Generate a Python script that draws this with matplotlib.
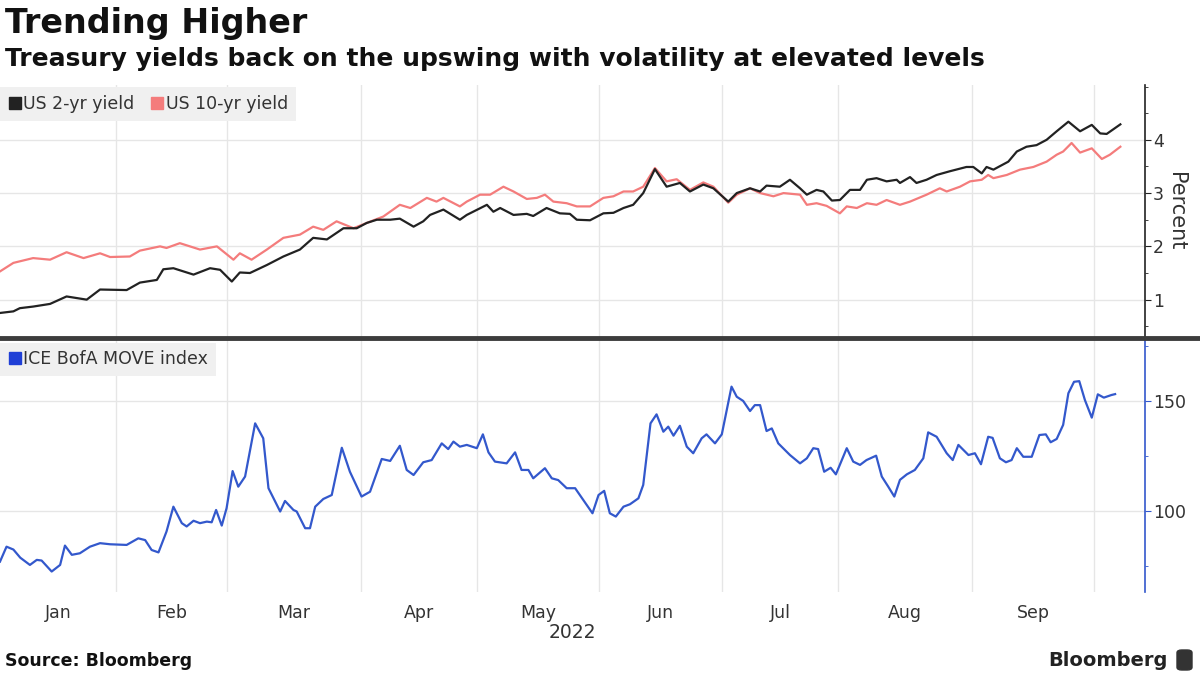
import matplotlib
matplotlib.use("Agg")
import matplotlib.pyplot as plt
from matplotlib.lines import Line2D
from matplotlib.patches import FancyBboxPatch
import numpy as np
import pandas as pd

# x positions are trading days counted from 3 Jan 2022 (Bloomberg plots on a
# trading-day axis)
td_2y = [0.0, 2.30, 3.41, 5.69, 8.60, 11.44, 14.90, 17.19, 21.76, 24.04,
         26.95, 28.06, 29.79, 33.25, 36.09, 37.82, 39.83, 41.21, 42.94, 45.85,
         48.69, 51.53, 53.81, 56.17, 59.01, 61.29, 63.02, 64.75, 67.04, 68.70,
         71.06, 72.72, 73.89, 76.18, 79.02, 80.20, 83.66, 84.77, 85.94, 88.23,
         90.51, 91.62, 93.91, 96.19, 97.92, 99.10, 101.38, 103.67, 105.40, 107.13,
         108.79, 110.52, 112.53, 114.54, 116.82, 118.55, 120.84, 122.57, 125.13, 126.59,
         128.87, 130.60, 131.71, 133.99, 135.73, 137.46, 138.63, 140.30, 141.47, 142.93,
         144.31, 146.04, 147.77, 148.95, 150.61, 152.34, 154.07, 154.63, 156.36, 157.47,
         159.20, 160.93, 163.21, 166.05, 167.23, 168.68, 169.51, 170.69, 173.25, 174.71,
         176.37, 178.10, 179.83, 181.56, 183.57, 185.58, 187.59, 189.04, 190.15, 192.50]
yld_2y = [0.75, 0.78, 0.84, 0.87, 0.92, 1.06, 1.00, 1.19, 1.18, 1.32,
          1.37, 1.57, 1.59, 1.47, 1.59, 1.56, 1.34, 1.51, 1.50, 1.65,
          1.81, 1.94, 2.16, 2.13, 2.34, 2.34, 2.44, 2.50, 2.50, 2.52,
          2.37, 2.47, 2.59, 2.69, 2.50, 2.59, 2.78, 2.65, 2.72, 2.59,
          2.61, 2.57, 2.72, 2.62, 2.61, 2.50, 2.49, 2.62, 2.63, 2.72,
          2.78, 3.00, 3.45, 3.12, 3.19, 3.03, 3.16, 3.09, 2.84, 3.00,
          3.09, 3.03, 3.14, 3.12, 3.25, 3.09, 2.97, 3.06, 3.03, 2.86,
          2.87, 3.06, 3.06, 3.25, 3.28, 3.22, 3.25, 3.19, 3.30, 3.19,
          3.25, 3.34, 3.41, 3.49, 3.49, 3.37, 3.49, 3.44, 3.59, 3.78,
          3.87, 3.90, 4.00, 4.16, 4.34, 4.16, 4.28, 4.12, 4.11, 4.29]

td_10y = [0.0, 2.30, 5.69, 8.60, 11.44, 14.35, 17.19, 18.92, 22.31, 24.04,
          27.50, 28.61, 30.90, 34.36, 37.27, 40.11, 41.21, 43.22, 45.85, 48.69,
          51.53, 53.81, 55.55, 57.83, 60.74, 63.02, 65.86, 68.70, 70.50, 73.34,
          75.00, 76.18, 79.02, 80.20, 82.48, 84.21, 86.50, 88.23, 90.51, 92.24,
          93.63, 95.08, 97.37, 99.10, 101.38, 103.67, 105.40, 107.13, 108.79, 110.52,
          112.53, 114.54, 116.27, 118.55, 120.84, 122.57, 125.13, 126.59, 128.87, 130.60,
          132.89, 134.62, 137.46, 138.63, 140.30, 142.03, 144.31, 145.49, 147.22, 148.95,
          150.61, 152.34, 154.63, 156.36, 159.20, 161.48, 162.66, 164.95, 166.68, 168.68,
          169.79, 170.69, 172.98, 175.26, 177.55, 179.83, 181.56, 182.67, 184.12, 185.58,
          187.59, 189.32, 190.70, 192.50]
yld_10y = [1.53, 1.69, 1.78, 1.75, 1.89, 1.78, 1.87, 1.80, 1.81, 1.92,
           2.00, 1.97, 2.06, 1.94, 2.00, 1.75, 1.87, 1.75, 1.94, 2.16,
           2.22, 2.37, 2.31, 2.47, 2.34, 2.44, 2.56, 2.78, 2.72, 2.91,
           2.84, 2.91, 2.75, 2.84, 2.97, 2.97, 3.12, 3.03, 2.89, 2.91,
           2.97, 2.84, 2.81, 2.75, 2.75, 2.91, 2.94, 3.03, 3.03, 3.12,
           3.47, 3.22, 3.26, 3.06, 3.20, 3.12, 2.82, 2.97, 3.09, 3.00,
           2.94, 3.00, 2.97, 2.78, 2.81, 2.76, 2.62, 2.75, 2.72, 2.81,
           2.78, 2.87, 2.78, 2.84, 2.97, 3.09, 3.03, 3.12, 3.22, 3.25,
           3.34, 3.28, 3.34, 3.44, 3.49, 3.59, 3.72, 3.78, 3.94, 3.76,
           3.84, 3.64, 3.72, 3.87]

td_move = [0.0, 1.12, 2.30, 3.48, 5.14, 6.32, 7.15, 8.88, 10.33, 11.16,
           12.34, 13.72, 15.46, 17.19, 18.92, 21.76, 23.76, 24.94, 26.05, 27.23,
           28.61, 29.79, 31.24, 32.07, 33.25, 34.36, 35.54, 36.37, 37.13, 38.10,
           38.93, 39.97, 40.94, 42.11, 43.84, 45.23, 46.13, 48.14, 48.97, 50.42,
           50.98, 52.43, 53.26, 54.16, 55.55, 57.00, 58.73, 60.12, 62.12, 63.58,
           65.59, 67.04, 68.70, 69.88, 71.06, 72.72, 74.17, 75.90, 77.01, 77.91,
           79.02, 80.20, 81.93, 82.97, 83.93, 85.04, 87.05, 88.50, 89.61, 90.79,
           91.62, 93.63, 94.81, 95.91, 97.37, 98.82, 100.21, 101.80, 102.84, 103.81,
           104.78, 105.81, 107.13, 108.24, 109.69, 110.52, 111.77, 112.81, 113.98, 114.82,
           115.72, 116.82, 118.00, 119.11, 120.56, 121.39, 122.85, 124.02, 125.69, 126.59,
           127.69, 128.87, 129.70, 130.60, 131.71, 132.61, 133.72, 135.73, 137.46, 138.63,
           139.74, 140.57, 141.61, 142.72, 143.62, 145.49, 146.60, 147.77, 148.88, 150.54,
           151.51, 152.62, 153.66, 154.63, 155.81, 157.19, 158.64, 159.48, 160.93, 162.66,
           163.70, 164.67, 166.40, 167.51, 168.55, 169.79, 170.55, 171.80, 172.84, 173.81,
           174.71, 175.82, 177.27, 178.59, 179.69, 180.52, 181.56, 182.67, 183.57, 184.54,
           185.44, 186.41, 187.59, 188.63, 189.66, 190.98, 191.60]
move = [76.8, 83.6, 82.3, 78.6, 75.3, 77.6, 77.3, 72.3, 75.3, 84.1,
        79.9, 80.6, 83.6, 85.2, 84.7, 84.4, 87.4, 86.6, 82.1, 81.0,
        90.5, 101.8, 94.3, 92.8, 95.4, 94.3, 95.0, 94.7, 100.3, 93.2,
        101.1, 118.0, 110.9, 115.5, 139.7, 132.9, 110.2, 99.6, 104.4, 100.3,
        99.6, 92.0, 92.0, 101.8, 105.3, 107.1, 128.6, 117.7, 106.4, 108.6,
        123.5, 122.6, 129.5, 118.5, 116.2, 122.0, 123.0, 130.6, 128.0, 131.4,
        129.1, 129.9, 128.4, 134.7, 126.5, 122.3, 121.5, 126.5, 118.5, 118.5,
        114.7, 119.3, 114.7, 113.9, 110.2, 110.2, 104.9, 98.8, 107.1, 109.0,
        98.8, 97.3, 101.8, 102.9, 105.6, 111.7, 139.7, 143.8, 135.9, 138.2,
        134.1, 138.6, 129.1, 126.1, 132.9, 134.7, 130.6, 134.7, 156.4, 151.8,
        149.9, 145.3, 148.0, 148.0, 136.2, 137.4, 130.6, 125.3, 121.5, 123.8,
        128.4, 128.0, 117.7, 119.5, 116.5, 128.4, 122.3, 120.8, 123.0, 125.0,
        115.5, 110.9, 106.4, 114.0, 116.5, 118.5, 123.8, 135.6, 133.6, 126.1,
        123.0, 129.9, 125.3, 126.1, 121.1, 133.6, 133.1, 123.8, 122.0, 123.0,
        128.4, 124.5, 124.5, 134.4, 134.7, 131.1, 132.6, 139.0, 153.4, 158.6,
        158.9, 150.3, 142.3, 152.9, 151.4, 152.6, 153.0]

months = ['Jan', 'Feb', 'Mar', 'Apr', 'May', 'Jun', 'Jul', 'Aug', 'Sep']
holidays = ['2022-01-17', '2022-02-21', '2022-04-15', '2022-05-30',
            '2022-06-20', '2022-07-04', '2022-09-05']

# trading calendar -> index of the first trading day of each month
tdays = pd.bdate_range('2022-01-03', '2022-10-31', freq='C', holidays=holidays)
month_start_idx = [int(np.argmax(tdays.month == m)) for m in range(1, 11)]

black = '#222222'
red = '#f47c7c'
blue = '#3358cc'
grid_col = '#e6e6e6'
text_col = '#333333'

fig = plt.figure(figsize=(12, 6.74), dpi=100)
ax1 = fig.add_axes([0, 0.4985, 0.954, 0.3755])
ax2 = fig.add_axes([0, 0.1217, 0.954, 0.3738], sharex=ax1)

ax1.plot(td_2y, yld_2y, color=black, lw=1.6, zorder=3)
ax1.plot(td_10y, yld_10y, color=red, lw=1.6, zorder=2)
ax2.plot(td_move, move, color=blue, lw=1.6, zorder=3)

for ax, spine_col in [(ax1, black), (ax2, blue)]:
    for s in ['left', 'top', 'bottom']:
        ax.spines[s].set_visible(False)
    ax.spines['right'].set_color(spine_col)
    ax.spines['right'].set_linewidth(1.2)
    ax.yaxis.tick_right()
    ax.tick_params(axis='y', which='both', colors=spine_col, labelcolor=text_col,
                   direction='out', labelsize=12.5, pad=2)
    ax.tick_params(axis='y', which='major', length=4)
    ax.tick_params(axis='y', which='minor', length=2.5)
    ax.grid(True, which='major', color=grid_col, lw=1, zorder=0)
    ax.set_axisbelow(True)
    ax.set_facecolor('white')

ax1.set_ylim(0.28, 5.03)
ax1.set_yticks([1, 2, 3, 4])
ax1.set_yticks([0.5, 1.5, 2.5, 3.5, 4.5, 5.0], minor=True)
ax1.yaxis.set_label_position('right')
ax1.set_ylabel('Percent', rotation=270, fontsize=15, color=text_col, labelpad=16)

ax2.set_ylim(63, 177.6)
ax2.set_yticks([100, 150])
ax2.set_yticks([75, 125, 175], minor=True)

# gridlines at month starts, month names centred between them
mids = [(month_start_idx[i] + month_start_idx[i + 1]) / 2 for i in range(len(months))]
ax2.set_xticks(month_start_idx[1:])
ax2.set_xticklabels([])
ax2.set_xticks(mids, minor=True)
ax2.set_xticklabels(months, minor=True)
ax2.tick_params(axis='x', which='both', length=0, labelsize=12.5,
                labelcolor=text_col, pad=9)
ax1.tick_params(axis='x', which='both', length=0, labelbottom=False)
ax1.set_xlim(0, 196.7)

# legends
h1 = [Line2D([], [], marker='s', ls='none', color=black, markersize=8),
      Line2D([], [], marker='s', ls='none', color=red, markersize=8)]
leg1 = ax1.legend(h1, ['US 2-yr yield', 'US 10-yr yield'], ncol=2, loc='upper left',
                  bbox_to_anchor=(0, 0.99), borderaxespad=0, frameon=True, fancybox=False,
                  facecolor='#f0f0f0', edgecolor='none', framealpha=1, fontsize=12.5,
                  handlelength=0.8, handletextpad=0.1, columnspacing=0.9,
                  borderpad=0.45)
for t in leg1.get_texts():
    t.set_color(text_col)

h2 = [Line2D([], [], marker='s', ls='none', color='#1f3fd6', markersize=8)]
leg2 = ax2.legend(h2, ['ICE BofA MOVE index'], loc='upper left',
                  bbox_to_anchor=(0, 0.99), borderaxespad=0, frameon=True, fancybox=False,
                  facecolor='#f0f0f0', edgecolor='none', framealpha=1, fontsize=12.5,
                  handlelength=0.8, handletextpad=0.1, borderpad=0.45)
for t in leg2.get_texts():
    t.set_color(text_col)

# divider between panels
fig.add_artist(Line2D([0, 1], [0.4985, 0.4985], color='#3c3c3c', lw=3.5,
                      transform=fig.transFigure))

fig.text(0.004, 0.99, 'Trending Higher', fontsize=24, fontweight='bold',
         va='top', color='#111111')
fig.text(0.004, 0.93, 'Treasury yields back on the upswing with volatility at elevated levels',
         fontsize=18, fontweight='bold', va='top', color='#111111')
fig.text(572 / 1200, 1 - 633 / 674, '2022', ha='center', va='center',
         fontsize=13.5, color=text_col)
fig.text(0.004, 1 - 661 / 674, 'Source: Bloomberg', fontsize=12.5, fontweight='bold',
         va='center', color='#111111')
fig.text(1168 / 1200, 1 - 660 / 674, 'Bloomberg', ha='right', va='center',
         fontsize=14, fontweight='bold', color='#222222')
fig.add_artist(FancyBboxPatch((1177 / 1200, 1 - 670 / 674), 15 / 1200, 20 / 674,
                              boxstyle='round,pad=0,rounding_size=0.004',
                              transform=fig.transFigure, color='#333333'))

fig.savefig('out.png', dpi=100, facecolor='white')
